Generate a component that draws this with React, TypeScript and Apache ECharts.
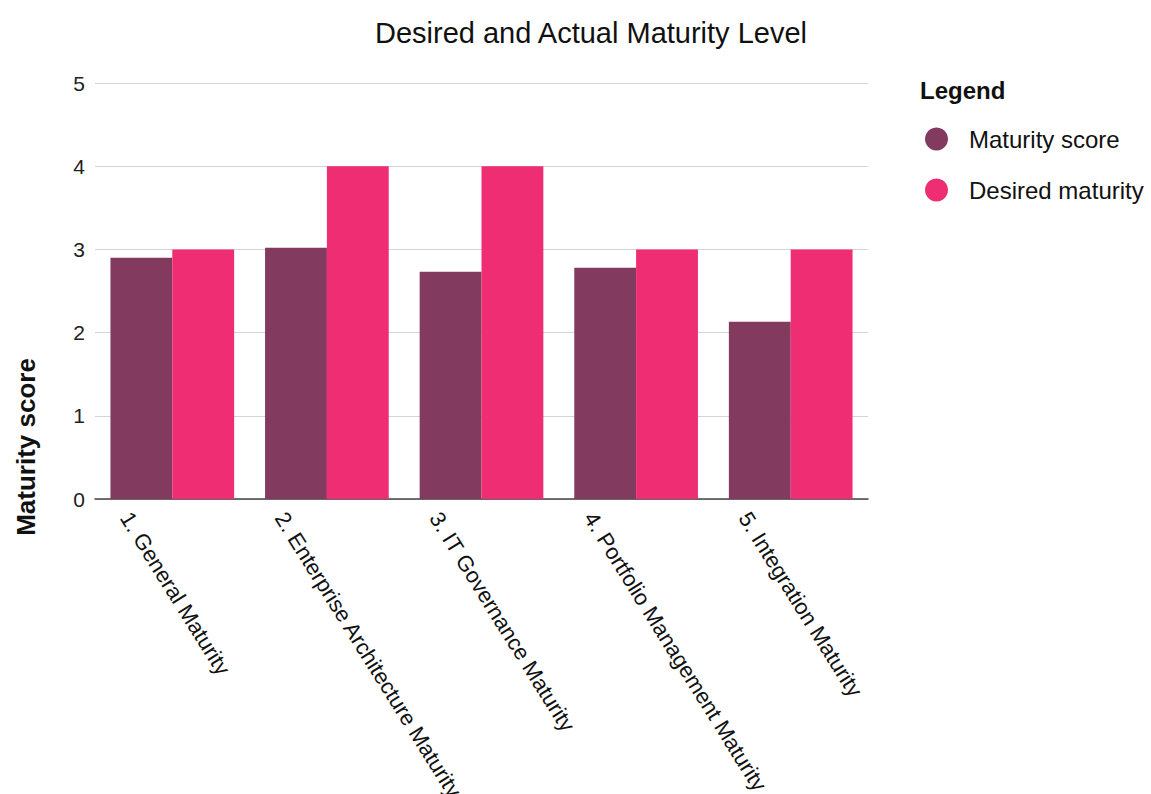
import React, { useEffect, useRef } from "react";
import * as echarts from "echarts";

// Maturity areas on the category axis
const categories = [
  "1. General Maturity",
  "2. Enterprise Architecture Maturity",
  "3. IT Governance Maturity",
  "4. Portfolio Management Maturity",
  "5. Integration Maturity",
];

// Measured maturity per area
const maturityScore = [2.9, 3.02, 2.73, 2.78, 2.13];

// Target maturity per area
const desiredMaturity = [3, 4, 4, 3, 3];

// Value axis range
const yMin = 0;
const yMax = 5;
const yInterval = 1;

const FONT = "'Liberation Sans', Arial, Helvetica, sans-serif";
const COLOR_SCORE = "#823A5E";
const COLOR_DESIRED = "#EE2D72";

export default function App() {
  const ref = useRef<HTMLDivElement>(null);

  useEffect(() => {
    if (!ref.current) return;
    const chart = echarts.init(ref.current, undefined, { renderer: "svg" });

    chart.setOption({
      animation: false,
      backgroundColor: "#ffffff",
      textStyle: { fontFamily: FONT },
      title: {
        text: "Desired and Actual Maturity Level",
        left: 586,
        top: 13,
        textAlign: "center",
        textStyle: {
          fontFamily: FONT,
          fontSize: 29,
          fontWeight: "normal",
          color: "#111111",
        },
      },
      legend: {
        orient: "vertical",
        left: 925,
        top: 127,
        padding: 0,
        icon: "circle",
        itemWidth: 23,
        itemHeight: 23,
        itemGap: 27,
        data: ["Maturity score", "Desired maturity"],
        textStyle: {
          fontFamily: FONT,
          fontSize: 24,
          color: "#111111",
          padding: [0, 0, 0, 16],
        },
      },
      graphic: [
        {
          type: "text",
          left: 920,
          top: 78,
          style: {
            text: "Legend",
            font: `bold 24px ${FONT}`,
            fill: "#111111",
          },
        },
        {
          type: "text",
          x: 26,
          y: 447,
          rotation: Math.PI / 2,
          style: {
            text: "Maturity score",
            font: `bold 26px ${FONT}`,
            fill: "#111111",
            align: "center",
            verticalAlign: "middle",
            textAlign: "center",
            textVerticalAlign: "middle",
          },
        },
      ],
      grid: {
        left: 95,
        right: 283,
        top: 83,
        bottom: 295,
        containLabel: false,
        outerBoundsMode: "none",
      },
      xAxis: {
        type: "category",
        data: categories,
        axisTick: { show: false },
        axisLine: { lineStyle: { color: "#444444", width: 1.5 } },
        axisLabel: {
          interval: 0,
          rotate: -58,
          margin: -14,
          align: "left",
          verticalAlign: "top",
          padding: [44, 0, 0, 0],
          fontFamily: FONT,
          fontSize: 22,
          color: "#111111",
        },
      },
      yAxis: {
        type: "value",
        min: yMin,
        max: yMax,
        interval: yInterval,
        axisLine: { show: false },
        axisTick: { show: false },
        axisLabel: {
          margin: 10,
          fontFamily: FONT,
          fontSize: 21,
          color: "#222222",
        },
        splitLine: { lineStyle: { color: "#d4d4d4", width: 1 } },
      },
      series: [
        {
          name: "Maturity score",
          type: "bar",
          data: maturityScore,
          itemStyle: { color: COLOR_SCORE },
          barGap: "0%",
          barCategoryGap: "20%",
        },
        {
          name: "Desired maturity",
          type: "bar",
          data: desiredMaturity,
          itemStyle: { color: COLOR_DESIRED },
          barGap: "0%",
          barCategoryGap: "20%",
        },
      ],
    });

    return () => chart.dispose();
  }, []);

  return (
    <div
      ref={ref}
      style={{ position: "fixed", left: 0, top: 0, width: 1151, height: 794 }}
    />
  );
}
